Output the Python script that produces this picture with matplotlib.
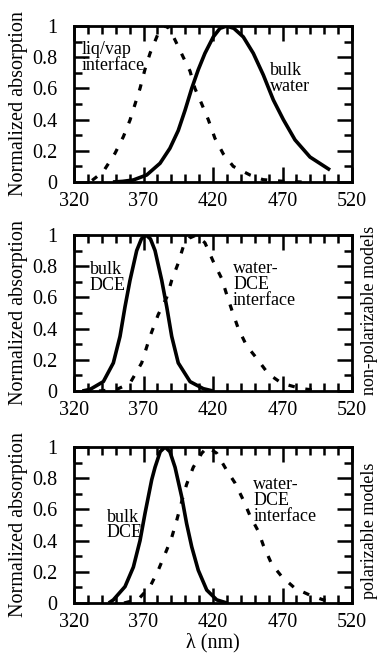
import matplotlib
matplotlib.use("Agg")
import matplotlib.pyplot as plt
from matplotlib.ticker import MultipleLocator, FixedLocator

plt.rcParams['font.family'] = ['Liberation Serif', 'DejaVu Serif']

# ---- data ----
top_liqvap_x = [333, 341, 349.5, 355.5, 360.3, 367.5, 371, 374.7, 380.6, 383, 385.5, 388.5,
                392.7, 398.6, 403.5, 407, 411.9, 416.6, 421.4, 427.4, 434.6, 446.6, 456, 470, 484]
top_liqvap_y = [0.01, 0.066, 0.184, 0.29, 0.397, 0.60, 0.72, 0.825, 0.953, 0.985, 1.0, 0.985,
                0.91, 0.80, 0.71, 0.60, 0.50, 0.40, 0.28, 0.18, 0.10, 0.045, 0.015, 0.005, 0.0]

top_water_x = [348, 355, 362.7, 372.3, 381.9, 389, 395, 399.9, 404.7, 409.4, 414.2, 420.2,
               425, 429.8, 435, 441.8, 449, 456.2, 463.4, 470.6, 479, 489.8, 504.2]
top_water_y = [0.0, 0.004, 0.013, 0.045, 0.12, 0.216, 0.33, 0.46, 0.60, 0.72, 0.825, 0.93,
               0.985, 1.0, 0.985, 0.93, 0.825, 0.686, 0.526, 0.40, 0.27, 0.16, 0.077]

mid_bulk_x = [326, 331.5, 341.1, 348.3, 353.1, 356.7, 360.3, 365.1, 368.5, 371.8, 375, 378.3,
              383.1, 386.7, 390.3, 395, 403.5, 413, 420]
mid_bulk_y = [0.0, 0.01, 0.06, 0.18, 0.35, 0.54, 0.71, 0.90, 0.975, 1.0, 0.975, 0.90,
              0.71, 0.54, 0.35, 0.18, 0.06, 0.015, 0.0]

mid_iface_x = [338, 350.7, 360.3, 368.7, 374.7, 380.6, 386.7, 390.3, 395, 398.6, 403, 408,
               414.2, 420.2, 426.3, 429.8, 433.5, 438.2, 444.2, 451.4, 459.8, 469.4, 482.6, 495]
mid_iface_y = [0.0, 0.01, 0.05, 0.18, 0.35, 0.49, 0.60, 0.71, 0.82, 0.925, 0.98, 1.0,
               0.95, 0.83, 0.72, 0.62, 0.52, 0.40, 0.29, 0.21, 0.11, 0.05, 0.017, 0.003]

bot_bulk_x = [345, 348.3, 356.7, 362.7, 367.5, 371.1, 375.9, 378.3, 382, 385.5, 389, 392.7,
              397.5, 401, 404.7, 409.4, 415.5, 422.7, 430]
bot_bulk_y = [0.0, 0.02, 0.105, 0.23, 0.40, 0.575, 0.79, 0.87, 0.97, 1.0, 0.97, 0.87,
              0.68, 0.51, 0.36, 0.21, 0.083, 0.02, 0.0]

bot_iface_x = [356, 366.3, 374.7, 380.6, 386.7, 390.3, 393.9, 397.5, 401, 405.8, 411.9, 416,
               422.7, 429.9, 435.8, 441.8, 446.6, 452.6, 456.2, 462.2, 469.4, 479, 489.8, 499.4, 505]
bot_iface_y = [0.0, 0.024, 0.105, 0.21, 0.34, 0.42, 0.53, 0.65, 0.76, 0.87, 0.96, 1.0,
               0.96, 0.85, 0.77, 0.66, 0.56, 0.46, 0.37, 0.25, 0.17, 0.094, 0.05, 0.02, 0.01]

x_ticks = [320, 370, 420, 470, 520]
y_ticks = [0, 0.2, 0.4, 0.6, 0.8, 1.0]
y_tick_labels = ['0', '0.2', '0.4', '0.6', '0.8', '1']

W, H = 380, 658
fig = plt.figure(figsize=(W / 100, H / 100), dpi=100)

panels = [(26, 182), (235, 391), (447, 603)]
left_px, right_px = 74, 352
axes = []
for top, bot in panels:
    ax = fig.add_axes([left_px / W, 1 - bot / H, (right_px - left_px) / W, (bot - top) / H])
    axes.append(ax)

solid_kw = dict(color='black', lw=2.6, solid_capstyle='butt')
dash_kw = dict(color='black', lw=2.3, linestyle=(0, (2.0, 3.4)))

axes[0].plot(top_liqvap_x, top_liqvap_y, **dash_kw)
axes[0].plot(top_water_x, top_water_y, **solid_kw)
axes[1].plot(mid_iface_x, mid_iface_y, **dash_kw)
axes[1].plot(mid_bulk_x, mid_bulk_y, **solid_kw)
axes[2].plot(bot_iface_x, bot_iface_y, **dash_kw)
axes[2].plot(bot_bulk_x, bot_bulk_y, **solid_kw)

fs = 14.5
for ax in axes:
    ax.set_xlim(320, 520)
    ax.set_ylim(0, 1)
    ax.xaxis.set_major_locator(FixedLocator(x_ticks))
    ax.xaxis.set_minor_locator(MultipleLocator(10))
    ax.yaxis.set_major_locator(FixedLocator(y_ticks))
    ax.set_yticklabels(y_tick_labels)
    ax.yaxis.set_minor_locator(MultipleLocator(0.1))
    ax.tick_params(which='both', direction='in', top=True, right=True, width=1.8,
                   labelsize=fs, colors='black')
    ax.tick_params(which='major', length=11)
    ax.tick_params(which='minor', length=5.5)
    ax.tick_params(axis='x', which='major', pad=7)
    ax.tick_params(axis='y', which='major', pad=12)
    for s in ax.spines.values():
        s.set_linewidth(2.0)
    ax.set_ylabel('Normalized absorption', fontsize=fs)
    ax.yaxis.set_label_coords(-0.165, 0.5)

txt = dict(fontsize=13, ha='left', va='center', linespacing=0.92)
axes[0].text(325.8, 0.80, 'liq/vap\ninterface', **txt)
axes[0].text(461, 0.665, 'bulk\nwater', **txt)
axes[1].text(331.5, 0.73, 'bulk\nDCE', **txt)
axes[1].text(434.4, 0.68, 'water-\nDCE\ninterface', **txt)
axes[2].text(343.5, 0.50, 'bulk\nDCE', **txt)
axes[2].text(449, 0.655, 'water-\nDCE\ninterface', **txt)

axes[2].set_xlabel('λ (nm)', fontsize=fs)
axes[2].xaxis.set_label_coords(0.5, -0.19)

fig.text(370 / W, 1 - 310 / H, 'non-polarizable models', rotation=90, fontsize=13,
         ha='center', va='center')
fig.text(370 / W, 1 - 531 / H, 'polarizable models', rotation=90, fontsize=13,
         ha='center', va='center')

fig.savefig('out.png', dpi=100)
